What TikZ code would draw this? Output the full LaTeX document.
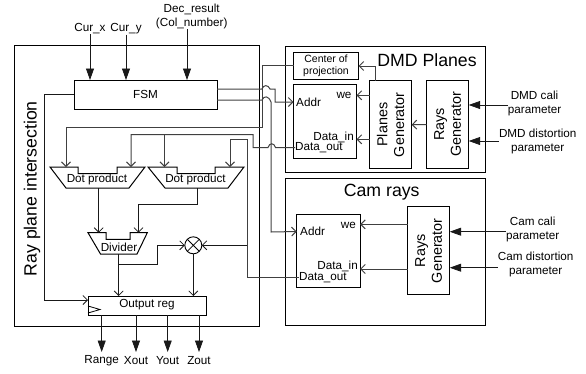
\documentclass[tikz,border=0pt]{standalone}
\usepackage{fontspec}
\setmainfont{Liberation Sans}
\usetikzlibrary{arrows.meta}
\tikzset{
  blockbox/.style={draw, line width=1pt, inner sep=0pt, outer sep=0pt},
  labeltxt/.style={font=\fontsize{11.7}{14}\selectfont, inner sep=0pt, align=center},
  smalltxt/.style={font=\fontsize{10.5}{12}\selectfont, inner sep=0pt, align=center},
  titletxt/.style={font=\fontsize{17.7}{20}\selectfont, inner sep=0pt},
  gentxt/.style={font=\fontsize{14.4}{16.8}\selectfont, rotate=90, align=center},
  wire/.style={draw=black!75, line width=1pt},
  thinwire/.style={draw=black!90, line width=0.8pt},
  openarr/.style={-{Straight Barb[length=4.5pt,width=9pt]}},
  fillarr/.style={-{Triangle[length=11.5pt,width=8pt]}}
}
\begin{document}
\begin{tikzpicture}[x=1pt, y=-1pt]
  \useasboundingbox (0,0) rectangle (586,373);
  % outer boxes
  \node[blockbox, minimum width=245pt, minimum height=281pt] (raybox) at (136.5,185.5) {};
  \node[blockbox, minimum width=199.5pt, minimum height=126pt] (dmdbox) at (385.5,109) {};
  \node[blockbox, minimum width=199.5pt, minimum height=147pt] (cambox) at (385.5,251.7) {};
  \node[titletxt, rotate=90] (raytitle) at (32,188.7) {Ray plane intersection};
  \node[titletxt] (dmdtitle) at (427,60) {DMD Planes};
  \node[titletxt] (camtitle) at (381.7,192) {Cam rays};
  % ray plane blocks
  \node[blockbox, labeltxt, minimum width=143pt, minimum height=29pt] (fsm) at (145.5,94.5) {FSM};
  \node[blockbox, minimum width=118pt, minimum height=19pt] (outreg) at (147,305.5) {};
  \node[labeltxt] (outlabel) at (147,305) {Output reg};
  \draw[line width=0.8pt] (88,306) -- (100,309.5) -- (88,313);
  \draw[line width=1pt] (50,167) -- (78,167) -- (78,173.5) -- (117,173.5) -- (117,167) -- (145,167) -- (129,188) -- (66,188) -- cycle;
  \draw[line width=1pt] (148,167) -- (177,167) -- (177,173.5) -- (215,173.5) -- (215,167) -- (244,167) -- (228,188) -- (165,188) -- cycle;
  \draw[line width=1pt] (88,232.7) -- (106,232.7) -- (106,239.3) -- (130,239.3) -- (130,232.7) -- (147.3,232.7) -- (137,254) -- (100.5,254) -- cycle;
  \node[labeltxt] (dot1) at (97,179) {Dot product};
  \node[labeltxt] (dot2) at (195.5,179) {Dot product};
  \node[labeltxt] (divider) at (119,247) {Divider};
  \node[draw, circle, line width=0.9pt, minimum size=17pt, inner sep=0pt, outer sep=0pt,
    path picture={\draw[line width=0.8pt] (path picture bounding box.north west) -- (path picture bounding box.south east)
      (path picture bounding box.north east) -- (path picture bounding box.south west);}] (mult) at (193.3,245.3) {};
  % DMD blocks
  \node[blockbox, smalltxt, minimum width=65pt, minimum height=27pt] (center) at (326,65.5) {Center of\\projection};
  \node[blockbox, minimum width=63pt, minimum height=73.5pt] (dmdmem) at (325,121.5) {};
  \node[blockbox, gentxt, minimum width=88pt, minimum height=42pt] (planes) at (390.6,124.7) {Planes\\Generator};
  \node[blockbox, gentxt, minimum width=88pt, minimum height=42pt] (dmdrays) at (447.7,124.5) {Rays\\Generator};
  \node[labeltxt, anchor=west] (dmdaddr) at (296,102) {Addr};
  \node[labeltxt, anchor=east] (dmdwe) at (351.7,95) {we};
  \node[labeltxt, anchor=east] (dmdin) at (354,137) {Data\_in};
  \node[labeltxt, anchor=west] (dmdout) at (295,147.5) {Data\_out};
  % cam blocks
  \node[blockbox, minimum width=63.3pt, minimum height=73.4pt] (cammem) at (328.4,251) {};
  \node[blockbox, gentxt, minimum width=88pt, minimum height=42pt] (camrays) at (428.7,250.7) {Rays\\Generator};
  \node[labeltxt, anchor=west] (camaddr) at (300,231.5) {Addr};
  \node[labeltxt, anchor=east] (camwe) at (356,225) {we};
  \node[labeltxt, anchor=east] (camin) at (358,266.5) {Data\_in};
  \node[labeltxt, anchor=west] (camout) at (299,277.5) {Data\_out};
  % top inputs
  \node[labeltxt] (curx) at (90,29) {Cur\_x};
  \node[labeltxt] (cury) at (126,29) {Cur\_y};
  \node[labeltxt] (dec) at (191.7,16) {Dec\_result\\(Col\_number)};
  \coordinate (decin) at (187,29);
  \draw[thinwire, fillarr] (curx.south) -- (curx.south |- fsm.north);
  \draw[thinwire, fillarr] (cury.south) -- (cury.south |- fsm.north);
  \draw[thinwire, fillarr] (decin) -- (decin |- fsm.north);
  % right inputs
  \node[labeltxt] (dmdcali) at (534.5,103) {DMD cali\\parameter};
  \node[labeltxt] (dmddist) at (537.7,141) {DMD distortion\\parameter};
  \node[labeltxt] (camcali) at (532.7,229) {Cam cali\\parameter};
  \node[labeltxt] (camdist) at (535.7,264) {Cam distortion\\parameter};
  \draw[thinwire, fillarr] (dmdcali.west |- 0,105) -- (dmdrays.south |- 0,105);
  \draw[thinwire, fillarr] (dmddist.west |- 0,141) -- (dmdrays.south |- 0,141);
  \draw[thinwire, fillarr] (camcali.west |- 0,231.7) -- (camrays.south |- 0,231.7);
  \draw[thinwire, fillarr] (camdist.west |- 0,267.7) -- (camrays.south |- 0,267.7);
  % outputs
  \node[labeltxt] (range) at (101.7,360.7) {Range};
  \node[labeltxt] (xout) at (136,360.7) {Xout};
  \node[labeltxt] (yout) at (167.7,360.7) {Yout};
  \node[labeltxt] (zout) at (199,360.7) {Zout};
  \draw[thinwire, fillarr] (range |- outreg.south) -- (range |- 0,352);
  \draw[thinwire, fillarr] (xout |- outreg.south) -- (xout |- 0,352);
  \draw[thinwire, fillarr] (yout |- outreg.south) -- (yout |- 0,352);
  \draw[thinwire, fillarr] (zout |- outreg.south) -- (zout |- 0,352);
  % ports on the dot products and divider
  \coordinate (dot1a) at (66,167);
  \coordinate (dot1b) at (131,167);
  \coordinate (dot2a) at (164.5,167);
  \coordinate (dot2b) at (230,167);
  \coordinate (dot1q) at (98.7,188);
  \coordinate (dot2q) at (197.3,188);
  \coordinate (diva) at (98.7,232.7);
  \coordinate (divb) at (138.5,232.7);
  \coordinate (divq) at (118.7,254);
  \coordinate (regb) at (118.7,296);
  % FSM to memories
  \draw[thinwire, openarr] (fsm.west) -- (44.5,94.5) |- (outreg.west |- 0,300);
  \draw[wire, openarr] (fsm.east |- 0,89) -- (262,89) .. controls (263.5,84.5) and (268,84.5) .. (270,89) -- (275,89) -- (275,102) -- (dmdmem.west |- dmdaddr);
  \draw[wire, openarr] (fsm.east |- 0,100) -- (262,100) .. controls (264,95.5) and (268.5,95.5) .. (271,102) -- (271,232) -- (cammem.west |- camaddr);
  % data busses
  \draw[wire, openarr] (center.west) -- (262,65.5) -- (262,127.5) -- (66,127.5) -- (dot1a);
  \draw[wire, openarr] (dmdout.west) -- (275.5,147.5) .. controls (274,142.5) and (269.5,142.5) .. (268,147.5) -- (253,147.5) -- (253,134.5) -- (131,134.5) -- (dot1b);
  \draw[wire, openarr] (164.5,134.5) -- (dot2a);
  \draw[wire, openarr] (camout.west) -- (247,277.5) -- (247,139) -- (230,139) -- (dot2b);
  \draw[thinwire, openarr] (247,245.3) -- (mult.east);
  % divider and output reg
  \draw[thinwire, openarr] (dot1q) -- (diva);
  \draw[thinwire, openarr] (dot2q) -- (197.3,204) -- (138.5,204) -- (divb);
  \draw[thinwire, openarr] (divq) -- (regb);
  \draw[thinwire, openarr] (118.7,264.3) -- (157.7,264.3) -- (157.7,245.3) -- (mult.west);
  \draw[thinwire, openarr] (mult.south) -- (mult.south |- outreg.north);
  % DMD connectors
  \draw[wire, openarr] (375.7,80.7) -- (375.7,66) -- (center.east |- 0,66);
  \draw[wire, openarr] (planes.north |- 0,95.3) -- (dmdmem.east |- 0,95.3);
  \draw[wire, openarr] (planes.north |- 0,139.3) -- (dmdmem.east |- 0,139.3);
  \draw[wire, openarr] (dmdrays.north) -- (planes.south);
  % cam connectors
  \draw[wire, openarr] (camrays.north |- 0,224.3) -- (cammem.east |- 0,224.3);
  \draw[wire, openarr] (camrays.north |- 0,269) -- (cammem.east |- 0,269);
\end{tikzpicture}
\end{document}
